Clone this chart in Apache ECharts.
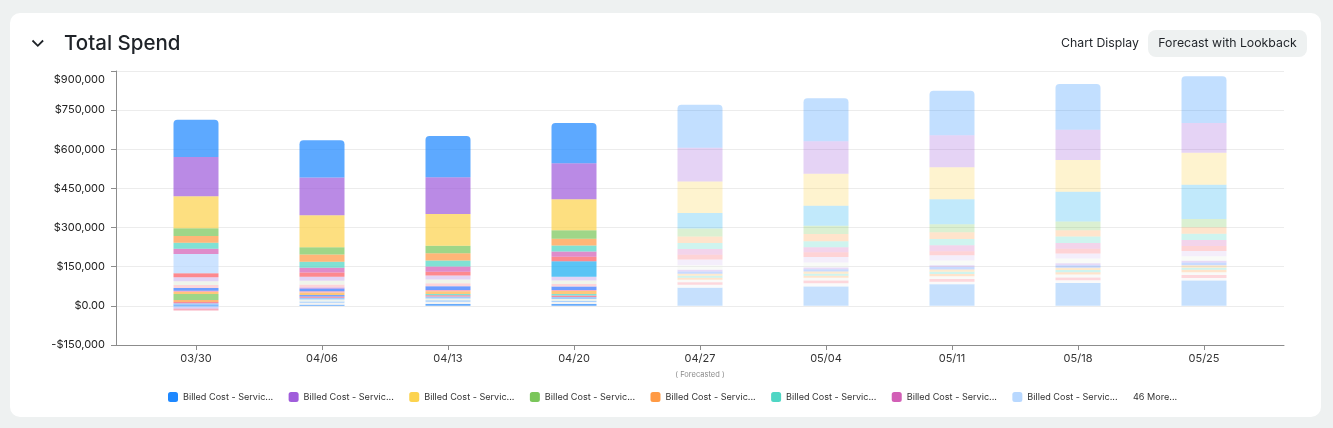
<!DOCTYPE html>
<html>
<head>
<meta charset="utf-8">
<script src="https://cdn.jsdelivr.net/npm/echarts@6/dist/echarts.min.js"></script>
<style>
  html, body { margin: 0; padding: 0; background: #eef1f1; }
  #card { position: absolute; left: 10px; top: 13px; width: 1311px; height: 404px; background: #ffffff; border-radius: 10px; }
  #c { position: absolute; left: 0; top: 0; width: 1333px; height: 428px; }
</style>
</head>
<body>
<div id="card"></div>
<div id="c"></div>
<script>
// ---------- DATA (values in thousands of $) ----------
const categories = ['03/30', '04/06', '04/13', '04/20', '04/27', '05/04', '05/11', '05/18', '05/25'];
const forecastStart = 4; // first forecasted category index
const yTicks = [-150000, 0, 150000, 300000, 450000, 600000, 750000, 900000];
const yTickLabels = ['-$150,000', '$0.00', '$150,000', '$300,000', '$450,000', '$600,000', '$750,000', '$900,000'];

// stack order: top of the bar first
const svc01 = [143, 143, 158, 154, 165, 165, 170, 175, 179];
const svc02 = [150, 145, 141, 138, 129, 125, 123, 116, 114];
const svc03 = [123, 122, 122, 119, 121, 122, 122, 122, 123];
const svc09 = [0, 0, 0, 0, 60, 77, 96, 114, 131];
const svc04 = [30, 28, 28, 32, 30, 32, 31, 33, 32];
const svc05 = [26, 28, 28, 26, 25, 27, 26, 24, 25];
const svc06 = [23, 23, 23, 23, 23, 23, 24, 25, 24];
const svc07 = [20, 18, 20, 20, 22, 20, 23, 22, 23];
const svc08 = [74, 0, 0, 0, 0, 0, 0, 0, 0];
const svc10 = [15, 16.5, 15, 18, 18, 18, 15, 18, 19];
const svc11 = [0, 0, 0, 59, 0, 0, 0, 0, 0];
const svc12 = [15.5, 15.5, 15, 14, 22, 21, 20, 20, 19.5];
const svc13 = [14, 14, 14.5, 14, 17.5, 19, 18, 18, 17.5];
const svc14 = [12, 11.5, 11.5, 9, 0, 0, 0, 0, 0];
const svc15 = [0, 5, 0, 0, 6.5, 6.5, 7, 7, 7];
const svc16 = [10, 10, 14.5, 14, 9, 9, 10, 10, 10.5];
const svc17 = [5, 4, 5, 4, 0, 0, 0, 0, 0];
const svc18 = [7.5, 10, 10, 11.5, 7.5, 8, 8.5, 9, 9];
const svc19 = [23, 0, 0, 0, 0, 0, 0, 0, 0];
const svc20 = [0, 0, 5, 5, 7.5, 8, 8.5, 8.5, 8.5];
const svc21 = [7.5, 0, 0, 0, 7.5, 8, 8.5, 8.5, 9];
const svc22 = [0, 6, 0, 0, 0, 0, 0, 0, 0];
const svc23 = [5, 4, 5, 6, 0, 0, 0, 0, 0];
const svc24 = [5, 7.5, 7.5, 7.5, 0, 0, 0, 0, 0];
const svc25 = [0, 7.5, 6.5, 6.5, 10, 10, 10.5, 11, 11];
const svc26 = [0, 5, 6, 5, 0, 0, 0, 0, 0];
const svc27 = [0, 0, 0, 0, 10, 10.5, 11, 11, 11];
const svc28 = [0, 7.5, 8, 7.5, 11.5, 13, 9, 10, 10];
const svc29 = [5, 4, 7.5, 7.5, 69, 74, 83, 88, 97];
const svc30 = [-6, 0, 0, 0, 0, 0, 0, 0, 0];
const svc31 = [-5, 0, 0, 0, 0, 0, 0, 0, 0];
const svc32 = [-6.5, 0, 0, 0, 0, 0, 0, 0, 0];

// top-to-bottom stacking order
const stackValues = [svc01, svc02, svc03, svc09, svc04, svc05, svc06, svc07, svc08, svc10,
  svc11, svc12, svc13, svc14, svc15, svc16, svc17, svc18, svc19, svc20,
  svc21, svc22, svc23, svc24, svc25, svc26, svc27, svc28, svc29, svc30, svc31, svc32];
const seriesNumbers = [1, 2, 3, 9, 4, 5, 6, 7, 8, 10, 11, 12, 13, 14, 15, 16, 17, 18, 19, 20,
  21, 22, 23, 24, 25, 26, 27, 28, 29, 30, 31, 32];
const seriesNames = seriesNumbers.map(n => 'Billed Cost - Service ' + n);
const legendNames = [1, 2, 3, 4, 5, 6, 7, 8].map(n => 'Billed Cost - Service ' + n);
const moreLabel = '46 More...';

// ---------- STYLES ----------
const seriesColors = ['#1e88ff', '#a05ddb', '#fcd34f', '#1badf1', '#7ac65a', '#ff9a44', '#4fd6c4', '#d25fb6',
  '#b8d8ff', '#fc5c63', '#1badf1', '#d8c2f1', '#e9f1e3', '#fcc4ca', '#a878e0', '#3477ff',
  '#f590a8', '#fdb24a', '#7ac65a', '#4fd6c4', '#ff9a44', '#3f86ff', '#f25f7a', '#7fb8f5',
  '#e8eee4', '#8cc0fb', '#f76a7c', '#eeeeee', '#2d8bf9', '#f58fa5', '#c9aef0', '#8fc0fb'];
const FONT = 'Inter, "Liberation Sans", sans-serif';
const AXIS_COLOR = '#8c8c8c';

const series = [];
for (let i = stackValues.length - 1; i >= 0; i--) {
  series.push({
    name: seriesNames[i],
    type: 'bar',
    stack: 'total',
    xAxisIndex: 0, yAxisIndex: 0,
    barWidth: 45,
    itemStyle: { color: seriesColors[i], borderRadius: i === 0 ? [4, 4, 0, 0] : 0 },
    emphasis: { disabled: true },
    data: stackValues[i].map((v, j) => ({
      value: v * 1000,
      itemStyle: { opacity: j < forecastStart ? 0.72 : 0.27 }
    }))
  });
}

const chart = echarts.init(document.getElementById('c'));
chart.setOption({
  animation: false,
  title: {
    text: 'Total Spend', left: 64, top: 32, padding: 0,
    textStyle: { fontFamily: FONT, fontSize: 20.5, fontWeight: 500, color: '#1f2328', lineHeight: 24 }
  },
  graphic: [
    { type: 'polyline', shape: { points: [[32.5, 40.5], [37.8, 45.8], [43.1, 40.5]] },
      style: { stroke: '#1f2328', lineWidth: 1.8, fill: null }, silent: true },
    { type: 'text', x: 1100, y: 43.5, silent: true,
      style: { text: 'Chart Display', font: '12.3px ' + FONT, fill: '#1f2328', align: 'center', verticalAlign: 'middle' } },
    { type: 'rect', shape: { x: 1148, y: 30, width: 159, height: 27, r: 8 }, style: { fill: '#eef1f1' }, silent: true },
    { type: 'text', x: 1227.5, y: 43.5, silent: true,
      style: { text: 'Forecast with Lookback', font: '12.3px ' + FONT, fill: '#1f2328', align: 'center', verticalAlign: 'middle' } },
    { type: 'text', x: 1133, y: 397.5, silent: true,
      style: { text: moreLabel, font: '9.1px ' + FONT, fill: '#333', align: 'left', verticalAlign: 'middle' } }
  ],
  grid: [
    { left: 133, right: 66, top: 71, bottom: 83, outerBoundsMode: 'none' },
    { left: 116, right: 49, top: 71, bottom: 83, outerBoundsMode: 'none' }
  ],
  legend: {
    data: legendNames,
    left: 168, top: 392, padding: 0,
    itemWidth: 10, itemHeight: 10, itemGap: 15.4,
    icon: 'roundRect',
    selectedMode: false,
    formatter: n => n.slice(0, 20) + '...',
    textStyle: { fontFamily: FONT, fontSize: 9.1, color: '#333' }
  },
  xAxis: [
    {
      type: 'category', gridIndex: 0, data: categories, boundaryGap: true,
      axisLine: { show: true, onZero: false, lineStyle: { color: AXIS_COLOR } },
      axisTick: { show: true, alignWithLabel: true, length: 5, lineStyle: { color: AXIS_COLOR } },
      axisLabel: {
        margin: 7, lineHeight: 14, interval: 0,
        fontFamily: FONT, fontSize: 11, color: '#333',
        formatter: (v, i) => i === forecastStart ? v + '\n{f|( Forecasted )}' : v,
        rich: { f: { fontFamily: FONT, fontSize: 7.5, color: '#8a8a8a', lineHeight: 18 } }
      }
    },
    {
      type: 'value', gridIndex: 1, min: 0, max: 1,
      axisLine: { show: true, onZero: false, lineStyle: { color: AXIS_COLOR } },
      axisTick: { show: false }, axisLabel: { show: false }, splitLine: { show: false }
    }
  ],
  yAxis: [
    {
      type: 'value', gridIndex: 0, min: yTicks[0], max: yTicks[yTicks.length - 1], interval: 150000,
      show: false, splitLine: { show: false }
    },
    {
      type: 'value', gridIndex: 1, min: yTicks[0], max: yTicks[yTicks.length - 1], interval: 150000,
      axisLine: { show: true, onZero: false, lineStyle: { color: AXIS_COLOR } },
      axisTick: { show: true, length: 5, lineStyle: { color: AXIS_COLOR } },
      splitLine: { lineStyle: { color: '#ececec' } },
      axisLabel: {
        margin: 11, fontFamily: FONT, fontSize: 11, color: '#222',
        formatter: v => {
          const i = yTicks.indexOf(v);
          const t = i >= 0 ? yTickLabels[i] : '';
          return i === yTicks.length - 1 ? '{top|' + t + '}' : t;
        },
        rich: { top: { fontFamily: FONT, fontSize: 11, color: '#222', padding: [18, 0, 0, 0] } }
      }
    }
  ],
  series: series
});
</script>
</body>
</html>
